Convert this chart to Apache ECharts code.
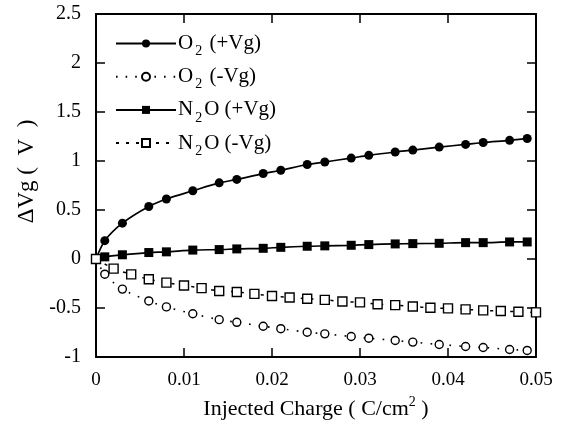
<!DOCTYPE html>
<html>
<head>
<meta charset="utf-8">
<script src="https://cdn.jsdelivr.net/npm/echarts@6/dist/echarts.min.js"></script>
<style>
  html, body { margin: 0; padding: 0; background: #fff; }
  #chart { width: 562px; height: 430px; }
</style>
</head>
<body>
<div id="chart"></div>
<script>
// x positions (C/cm^2) of the +Vg / O2 -Vg measurements
const xMain = [0, 0.001, 0.003, 0.006, 0.008, 0.011, 0.014, 0.016, 0.019, 0.021, 0.024,
  0.026, 0.029, 0.031, 0.034, 0.036, 0.039, 0.042, 0.044, 0.047, 0.049]
// x positions of the N2O -Vg measurements
const xN2oNeg = [0, 0.002, 0.004, 0.006, 0.008, 0.010, 0.012, 0.014, 0.016, 0.018, 0.020,
  0.022, 0.024, 0.026, 0.028, 0.030, 0.032, 0.034, 0.036, 0.038, 0.040,
  0.042, 0.044, 0.046, 0.048, 0.050]

const o2Pos = [0, 0.187, 0.366, 0.536, 0.612, 0.696, 0.777, 0.812, 0.872, 0.906, 0.964,
  0.990, 1.030, 1.058, 1.092, 1.111, 1.142, 1.169, 1.189, 1.211, 1.230]
const o2Neg = [0, -0.155, -0.307, -0.428, -0.489, -0.559, -0.619, -0.646, -0.686, -0.711, -0.747,
  -0.764, -0.791, -0.808, -0.832, -0.848, -0.872, -0.893, -0.903, -0.923, -0.933]
const n2oPos = [0, 0.022, 0.043, 0.066, 0.073, 0.091, 0.096, 0.103, 0.109, 0.119, 0.130,
  0.134, 0.140, 0.147, 0.154, 0.157, 0.160, 0.167, 0.167, 0.174, 0.174]
const n2oNeg = [0, -0.098, -0.157, -0.207, -0.241, -0.270, -0.297, -0.326, -0.336, -0.356, -0.377,
  -0.393, -0.405, -0.417, -0.433, -0.443, -0.461, -0.471, -0.484, -0.498, -0.504,
  -0.514, -0.524, -0.531, -0.538, -0.545]

const xTickLabels = ['0', '0.01', '0.02', '0.03', '0.04', '0.05']
const yTickLabels = ['-1', '-0.5', '0', '0.5', '1', '1.5', '2', '2.5']

const FONT = 'Liberation Serif'

function pairs(xs, ys) {
  return ys.map((y, i) => [xs[i], y])
}

const chart = echarts.init(document.getElementById('chart'))

const frameAxis = {
  type: 'value',
  axisLine: { show: true, onZero: false, lineStyle: { color: '#000', width: 2 } },
  axisTick: { show: true, inside: true, length: 9, lineStyle: { color: '#000', width: 1.5 } },
  splitLine: { show: false },
}

// subscript: small token pushed to the bottom of a tall line
const legendRich = {
  a: { fontFamily: FONT, fontSize: 21, color: '#000', lineHeight: 30, verticalAlign: 'middle' },
  sub: { fontFamily: FONT, fontSize: 14, color: '#000', lineHeight: 12, verticalAlign: 'bottom', padding: [0, 2, 0, 2] },
}

const names = {
  'O2 (+Vg)': '{a|O}{sub|2}{a| (+Vg)}',
  'O2 (-Vg)': '{a|O}{sub|2}{a| (-Vg)}',
  'N2O (+Vg)': '{a|N}{sub|2}{a|O (+Vg)}',
  'N2O (-Vg)': '{a|N}{sub|2}{a|O (-Vg)}',
}

const option = {
  animation: false,
  backgroundColor: '#fff',
  grid: { left: 96, right: 26, top: 14, bottom: 73 },
  legend: {
    left: 110,
    top: 28,
    orient: 'vertical',
    itemWidth: 60,
    itemHeight: 10,
    itemGap: 7.7,
    data: ['O2 (+Vg)', 'O2 (-Vg)', 'N2O (+Vg)', 'N2O (-Vg)'],
    formatter: (n) => names[n],
    textStyle: { rich: legendRich, padding: [0, 0, 0, -3] },
  },
  xAxis: [
    {
      ...frameAxis,
      position: 'bottom',
      min: 0, max: 0.05, interval: 0.01,
      axisLabel: {
        margin: 14,
        fontFamily: FONT, fontSize: 19, color: '#000',
        formatter: (v) => xTickLabels[Math.round(v / 0.01)],
      },
      name: '{a|Injected Charge ( C/cm}{sup|2}{a| )}',
      nameLocation: 'middle',
      nameGap: 38,
      nameTextStyle: {
        rich: {
          a: { fontFamily: FONT, fontSize: 22, color: '#000', lineHeight: 28, verticalAlign: 'middle' },
          sup: { fontFamily: FONT, fontSize: 14, color: '#000', lineHeight: 14, verticalAlign: 'top' },
        },
      },
    },
    {
      ...frameAxis,
      position: 'top',
      min: 0, max: 0.05, interval: 0.01,
      axisLabel: { show: false },
    },
  ],
  yAxis: [
    {
      ...frameAxis,
      position: 'left',
      min: -1, max: 2.5, interval: 0.5,
      axisLabel: {
        margin: 15,
        fontFamily: FONT, fontSize: 20, color: '#000',
        formatter: (v) => yTickLabels[Math.round((v + 1) / 0.5)],
      },
      name: 'ΔVg (  V  )',
      nameLocation: 'middle',
      nameGap: 58,
      nameTextStyle: { fontFamily: FONT, fontSize: 23, color: '#000', padding: [0, 0, 0, 28] },
    },
    {
      ...frameAxis,
      position: 'right',
      min: -1, max: 2.5, interval: 0.5,
      axisLabel: { show: false },
    },
  ],
  series: [
    {
      name: 'O2 (+Vg)',
      type: 'line',
      data: pairs(xMain, o2Pos),
      smooth: 0.3,
      symbol: 'circle',
      symbolSize: 9,
      itemStyle: { color: '#000' },
      lineStyle: { color: '#000', width: 1.7 },
    },
    {
      name: 'O2 (-Vg)',
      type: 'line',
      data: pairs(xMain, o2Neg),
      smooth: 0.3,
      symbol: 'circle',
      symbolSize: 8,
      itemStyle: { color: '#fff', borderColor: '#000', borderWidth: 1.4 },
      lineStyle: { color: '#000', width: 1.6, type: [1.6, 8] },
    },
    {
      name: 'N2O (+Vg)',
      type: 'line',
      data: pairs(xMain, n2oPos),
      smooth: 0.3,
      symbol: 'rect',
      symbolSize: 9,
      itemStyle: { color: '#000' },
      lineStyle: { color: '#000', width: 1.7 },
    },
    {
      name: 'N2O (-Vg)',
      type: 'line',
      data: pairs(xN2oNeg, n2oNeg),
      smooth: 0.3,
      symbol: 'rect',
      symbolSize: 9,
      itemStyle: { color: '#fff', borderColor: '#000', borderWidth: 1.4 },
      lineStyle: { color: '#000', width: 1.5, type: [3, 7] },
    },
  ],
}

chart.setOption(option)
</script>
</body>
</html>
